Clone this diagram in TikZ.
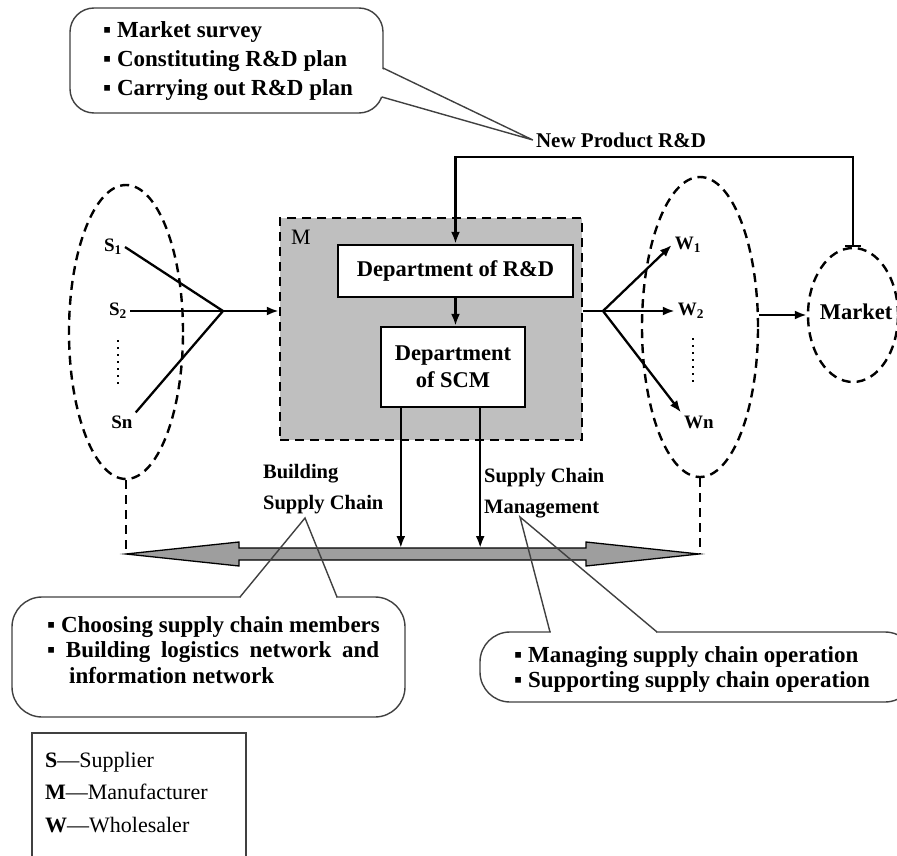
\documentclass[tikz,border=0pt]{standalone}
\usepackage{fontspec}
\setmainfont{Liberation Serif}
\usetikzlibrary{shapes.geometric,arrows.meta,calc}
\tikzset{
  font={\fontsize{22.5pt}{27pt}\selectfont\bfseries}}

\begin{document}
\begin{tikzpicture}[x=1pt,y=-1pt,line width=2.3pt,
  dashline/.style={dash pattern=on 9pt off 6pt, line width=2.4pt},
  grp/.style={ellipse, draw, dashline},
  dept/.style={draw, fill=white, line width=2.4pt},
  notebox/.style={draw=black!75, line width=1.4pt, rounded corners=24pt},
  ptrline/.style={draw=black!75, line width=1.4pt},
  link/.style={line width=2.3pt, -{Latex[length=12pt,width=9pt]}},
  lab/.style={font={\fontsize{19pt}{22pt}\selectfont\bfseries}}]
\tikzstyle{every node}+=[inner sep=2pt]
\useasboundingbox (0,0) rectangle (897,856);

% manufacturer
\node [draw, dashline, fill=black!25, minimum width=302, minimum height=222] (mfr) at (431,329) {};
\node [font={\fontsize{22pt}{27pt}\selectfont\mdseries}] (mlab) at (301,237) {M};
\node [dept, minimum width=235, minimum height=52] (rd) at (455.5,271) {Department of R\&D};
\node [dept, minimum width=144, minimum height=80, align=center] (scm) at (453,367) {Department\\of SCM};
\draw [link] (rd.south) -- (rd.south |- scm.north);

% suppliers
\node [grp, minimum width=114, minimum height=294] (sgrp) at (126,332) {};
\node [lab] (s1) at (113,247) {S\textsubscript{1}};
\node [lab] (s2) at (118,311) {S\textsubscript{2}};
\node [lab] (sn) at (122,422) {Sn};
\coordinate (sjoin) at (223,311);
\draw (s1.east) -- (sjoin);
\draw (s2.east) -- (sjoin);
\draw (sn.north east) -- (sjoin);
\draw [line width=2.6pt, dash pattern=on 2pt off 5pt] (118,340) -- (118,386);
\draw [link] (sjoin) -- (sjoin -| mfr.west);

% wholesalers
\node [grp, minimum width=116, minimum height=300] (wgrp) at (700,327) {};
\node [lab] (w1) at (688,245) {W\textsubscript{1}};
\node [lab] (w2) at (691,311) {W\textsubscript{2}};
\node [lab] (wn) at (699,422) {Wn};
\coordinate (wjoin) at (603,311);
\draw (mfr.east |- wjoin) -- (wjoin);
\draw [link] (wjoin) -- (w1.west);
\draw [link] (wjoin) -- (w2.west);
\draw [link] (wjoin) -- (wn.north west);
\draw [line width=2.6pt, dash pattern=on 2pt off 5pt] (693,338) -- (693,384);

% market and feedback
\node [grp, minimum width=90, minimum height=134] (mkt) at (853,315) {};
\node (mktlab) at (856,312) {Market};
\draw [link] (wgrp.east |- mkt) -- (mkt.west);
\draw [line width=2.3pt, {Bar[width=16pt]}-{Latex[length=12pt,width=9pt]}] (mkt.north) -- ++(0,-90) -| (rd.north);
\node [font={\fontsize{21pt}{24pt}\selectfont\bfseries}] (npd) at (621,140) {New Product R\&D};

% supply chain arrow
\coordinate (chainL) at (126,554);
\coordinate (chainR) at (699,554);
\coordinate (chaintop) at (0,548);
\draw [fill=black!38, line width=1.3pt] (chainL) -- (239,542) -- (239,548) -- (586,548) -- (586,542)
  -- (chainR) -- (586,566) -- (586,560) -- (239,560) -- (239,566) -- cycle;
\draw [dashline] (sgrp.south) -- (sgrp.south |- chainL);
\draw [dashline] (wgrp.south) -- (wgrp.south |- chainR);
\coordinate (scmA) at ($(scm.south west)+(21,0)$);
\coordinate (scmB) at ($(scm.south east)+(-46,0)$);
\draw [link] (scmA) -- (scmA |- chaintop);
\draw [link] (scmB) -- (scmB |- chaintop);

\node [anchor=west, align=left, font={\fontsize{20.5pt}{31pt}\selectfont\bfseries}] (build) at (260,489) {Building\\Supply Chain};
\node [anchor=west, align=left, font={\fontsize{20.5pt}{31pt}\selectfont\bfseries}] (manage) at (481,493) {Supply Chain\\Management};

% R&D note
\draw [notebox] (70,8) rectangle (383,113);
\node [anchor=west, align=left, font={\fontsize{23pt}{29pt}\selectfont\bfseries}] (rdplan) at (100,61)
  {▪ Market survey\\▪ Constituting R\&D plan\\▪ Carrying out R\&D plan};
\fill [white] (381,68.5) -- (npd.west) -- (381,96.5) -- cycle;
\draw [ptrline] (383,68) -- (npd.west) -- (382,97);

% building note
\coordinate (buildtip) at (305,518);
\draw [notebox, rounded corners=30pt] (12,597) rectangle (405,717);
\draw [white, line width=3pt] (241,597) -- (336,597);
\draw [ptrline] (240,597) -- (buildtip) -- (337,597);
\node [anchor=west, align=left, font={\fontsize{23pt}{25.5pt}\selectfont\bfseries}] (buildlist) at (44,650)
  {▪ Choosing supply chain members\\\makebox[332pt][s]{▪ Building logistics network and}\\\hspace{22pt}information network};

% management note
\coordinate (managetip) at (520,517);
\draw [notebox, rounded corners=30pt] (480,632) rectangle (915,702);
\draw [white, line width=3pt] (551,632) -- (656,632);
\draw [ptrline] (550,632) -- (managetip) -- (657,632);
\node [anchor=west, align=left, font={\fontsize{23pt}{25pt}\selectfont\bfseries}] (managelist) at (511,669.5)
  {▪ Managing supply chain operation\\▪ Supporting supply chain operation};

% legend
\draw [line width=1.4pt, draw=black!75] (32,733) rectangle (246,880);
\node [anchor=north west, align=left, font={\fontsize{22pt}{32.5pt}\selectfont\mdseries}] (legend) at (42,749)
  {\textbf{S}—Supplier\\\textbf{M}—Manufacturer\\\textbf{W}—Wholesaler};
\end{tikzpicture}
\end{document}
